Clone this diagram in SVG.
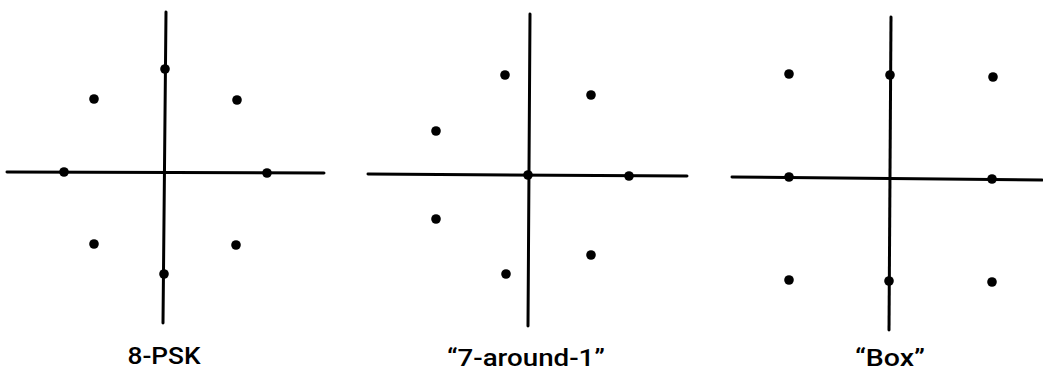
<svg xmlns="http://www.w3.org/2000/svg" width="1043" height="370" viewBox="0 0 1043 370">
<style>
.ax{stroke:#000;stroke-width:3;fill:none;stroke-linecap:round}
.pt{fill:#000}
.lbl{font-family:Roboto,"Liberation Sans",Arial,sans-serif;font-size:24px;font-weight:500;fill:#000;text-anchor:middle}
</style>
<rect width="1043" height="370" fill="#fff"/>
<g id="connectors">
<line class="ax" x1="166" y1="12" x2="163" y2="323"/>
<line class="ax" x1="7" y1="172" x2="324" y2="173"/>
<line class="ax" x1="530" y1="14" x2="528" y2="326"/>
<line class="ax" x1="368" y1="174" x2="687" y2="176"/>
<line class="ax" x1="891" y1="17" x2="889" y2="330"/>
<line class="ax" x1="732" y1="177" x2="1042" y2="180"/>
</g>
<g id="psk8">
<circle class="pt" cx="165" cy="69" r="4.8"/>
<circle class="pt" cx="64" cy="172" r="4.8"/>
<circle class="pt" cx="267" cy="173" r="4.8"/>
<circle class="pt" cx="164" cy="274" r="4.8"/>
<circle class="pt" cx="94" cy="99" r="4.8"/>
<circle class="pt" cx="237" cy="100" r="4.8"/>
<circle class="pt" cx="94" cy="244" r="4.8"/>
<circle class="pt" cx="236" cy="245" r="4.8"/>
<text class="lbl" x="164" y="364" textLength="73" lengthAdjust="spacingAndGlyphs">8-PSK</text>
</g>
<g id="around7">
<circle class="pt" cx="528" cy="175" r="4.8"/>
<circle class="pt" cx="629" cy="176" r="4.8"/>
<circle class="pt" cx="505" cy="75" r="4.8"/>
<circle class="pt" cx="591" cy="95" r="4.8"/>
<circle class="pt" cx="436" cy="131" r="4.8"/>
<circle class="pt" cx="436" cy="219" r="4.8"/>
<circle class="pt" cx="506" cy="274" r="4.8"/>
<circle class="pt" cx="591" cy="255" r="4.8"/>
<text class="lbl" x="526" y="366" textLength="158" lengthAdjust="spacingAndGlyphs">“7-around-1”</text>
</g>
<g id="box">
<circle class="pt" cx="789" cy="74" r="4.8"/>
<circle class="pt" cx="890" cy="75" r="4.8"/>
<circle class="pt" cx="993" cy="77" r="4.8"/>
<circle class="pt" cx="789" cy="177" r="4.8"/>
<circle class="pt" cx="992" cy="179" r="4.8"/>
<circle class="pt" cx="789" cy="280" r="4.8"/>
<circle class="pt" cx="889" cy="281" r="4.8"/>
<circle class="pt" cx="992" cy="282" r="4.8"/>
<text class="lbl" x="890" y="366" textLength="70" lengthAdjust="spacingAndGlyphs">“Box”</text>
</g>
</svg>
